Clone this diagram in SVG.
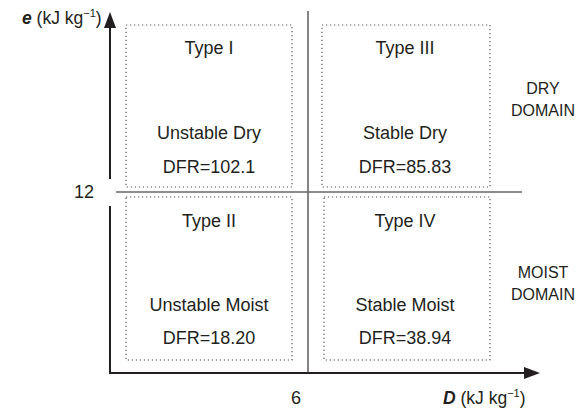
<svg xmlns="http://www.w3.org/2000/svg" width="579" height="410" viewBox="0 0 579 410">
<style>
text{font-family:"Liberation Sans",Arial,sans-serif;fill:#231f20}
.t{font-size:18px;text-anchor:middle}
.a{font-size:17.5px}
.d{font-size:16px;text-anchor:middle}
.box{fill:none;stroke:#555;stroke-width:1.2;stroke-dasharray:1.2 2.8}
.ax{stroke:#231f20;stroke-width:2;fill:none}
.ref{stroke:#666;stroke-width:1.6;fill:none}
.sup{font-size:11px}
</style>
<rect width="579" height="410" fill="#fff"/>
<g id="connectors">
<line class="ref" x1="308" y1="11" x2="308" y2="373"/>
<line class="ref" x1="116" y1="192" x2="522" y2="192"/>
<path d="M110 373 L110 206 M110 179 L110 26" class="ax"/>
<polygon points="104,28 116,28 110,12" fill="#231f20"/>
<line class="ax" x1="109" y1="373" x2="524" y2="373"/>
<polygon points="524,367 524,379 540,373" fill="#231f20"/>
</g>
<g id="type1">
<rect class="box" x="126" y="25" width="166" height="162"/>
<text class="t" x="209" y="54">Type I</text>
<text class="t" x="209" y="139">Unstable Dry</text>
<text class="t" x="209" y="173">DFR=102.1</text>
</g>
<g id="type3">
<rect class="box" x="322" y="25" width="168" height="162"/>
<text class="t" x="405" y="54">Type III</text>
<text class="t" x="405" y="139">Stable Dry</text>
<text class="t" x="405" y="173">DFR=85.83</text>
</g>
<g id="type2">
<rect class="box" x="126" y="197" width="166" height="163"/>
<text class="t" x="209" y="227">Type II</text>
<text class="t" x="209" y="311">Unstable Moist</text>
<text class="t" x="209" y="344">DFR=18.20</text>
</g>
<g id="type4">
<rect class="box" x="324" y="197" width="166" height="163"/>
<text class="t" x="405" y="227">Type IV</text>
<text class="t" x="405" y="311">Stable Moist</text>
<text class="t" x="405" y="344">DFR=38.94</text>
</g>
<g id="labels">
<text class="a" x="22" y="24"><tspan font-weight="bold" font-style="italic">e</tspan> (kJ kg<tspan class="sup" dy="-7">−1</tspan><tspan dy="7">)</tspan></text>
<text class="t" x="84" y="198">12</text>
<text class="t" x="296" y="404">6</text>
<text class="a" x="443" y="404"><tspan font-weight="bold" font-style="italic">D</tspan> (kJ kg<tspan class="sup" dy="-7">−1</tspan><tspan dy="7">)</tspan></text>
<text class="d" x="543" y="94">DRY</text>
<text class="d" x="543" y="116">DOMAIN</text>
<text class="d" x="543" y="278">MOIST</text>
<text class="d" x="543" y="300">DOMAIN</text>
</g>
</svg>
